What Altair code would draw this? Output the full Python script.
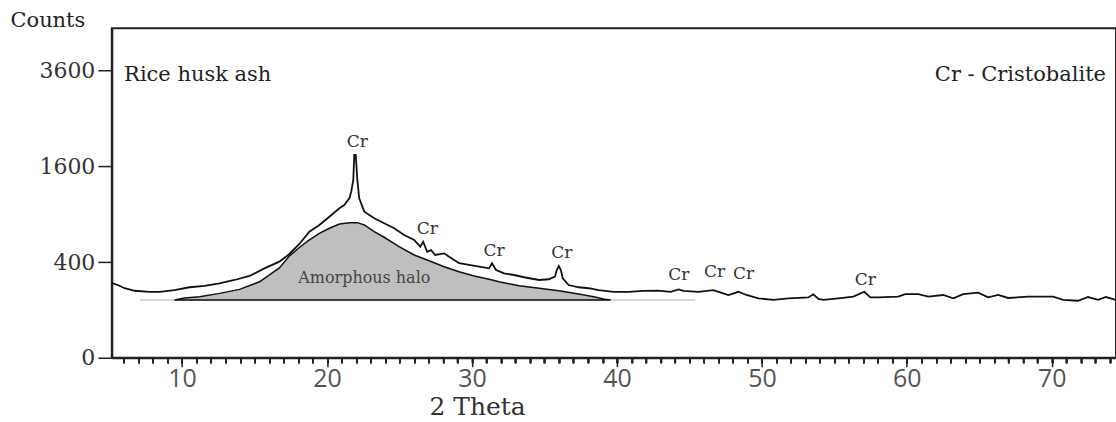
import altair as alt
import pandas as pd

# Main XRD pattern (2-theta, counts)
theta = [5.15, 5.56, 6.04, 6.73, 7.76, 8.45, 9.48, 10.52, 11.55, 12.58, 13.62, 14.65, 15.68,
         16.71, 17.40, 18.09, 18.78, 19.47, 20.16, 20.85, 21.19, 21.54, 21.67, 21.81, 21.88,
         21.98, 22.09, 22.22, 22.57, 23.26, 23.94, 24.63, 25.32, 26.01, 26.43, 26.63, 26.91,
         27.18, 27.46, 28.08, 28.42, 29.11, 29.80, 30.49, 31.18, 31.38, 31.66, 32.21, 32.90,
         33.59, 34.63, 35.30, 35.72, 35.85, 35.99, 36.13, 36.26, 36.67, 37.36, 38.05, 38.73,
         39.77, 40.81, 41.84, 42.87, 43.70, 44.25, 44.59, 45.63, 46.66, 47.01, 47.69, 48.38,
         48.93, 49.76, 50.79, 51.83, 53.20, 53.55, 53.90, 54.24, 55.28, 56.31, 57.07, 57.48,
         58.03, 59.41, 59.89, 60.79, 61.48, 62.51, 63.20, 63.89, 64.92, 65.61, 66.30, 66.99,
         68.37, 70.09, 70.78, 71.81, 72.50, 73.19, 73.74, 74.43]
counts = [244, 231, 211, 196, 190, 189, 200, 217, 225, 242, 264, 292, 349,
          403, 470, 565, 694, 770, 869, 976, 1019, 1111, 1205, 1380, 1796,
          1796, 1380, 1111, 932, 849, 790, 732, 658, 606, 539, 588, 491,
          507, 461, 476, 446, 390, 376, 362, 349, 390, 336, 311, 299,
          283, 264, 269, 287, 336, 368, 336, 276, 231, 217, 211, 200,
          190, 189, 195, 197, 190, 204, 195, 190, 200, 190, 172, 190,
          172, 154, 146, 154, 159, 176, 151, 146, 154, 163, 190, 159,
          159, 163, 177, 177, 163, 172, 154, 177, 185, 159, 172, 156,
          163, 163, 146, 142, 161, 146, 161, 146]

# Amorphous halo outline
halo_theta = [9.48, 10.17, 11.21, 12.58, 13.96, 15.34, 16.71, 17.40, 18.09, 18.78, 19.47,
              20.16, 20.85, 21.54, 22.09, 22.57, 23.26, 23.94, 24.97, 26.01, 27.04, 28.08,
              29.11, 30.15, 31.18, 31.87, 33.25, 34.63, 36.00, 37.36, 38.40, 39.08, 39.57]
halo_counts = [146, 156, 163, 181, 204, 252, 352, 452, 531, 606, 676,
               732, 781, 797, 797, 770, 694, 634, 539, 461, 411, 362,
               323, 292, 269, 252, 227, 211, 196, 177, 163, 151, 146]
halo_base = 146
baseline_start, baseline_end = 7.1, 45.4

# Peak labels
cr_theta = [22.09, 26.91, 31.52, 36.20, 44.26, 46.74, 48.74, 57.14]
cr_counts = [2034, 724, 498, 479, 299, 321, 306, 264]

# Other annotations
notes_text = ["Amorphous halo"]
notes_theta = [22.57]
notes_counts = [278]

x_domain = [5.15, 74.43]
y_domain = [0, 4740]
y_ticks = [0, 400, 1600, 3600]
x_major = [10, 20, 30, 40, 50, 60, 70]
x_minor = list(range(6, 75))

xs = alt.Scale(domain=x_domain, nice=False, zero=False)
ys = alt.Scale(type="sqrt", domain=y_domain, nice=False, zero=True)

main_df = pd.DataFrame({"theta": theta, "counts": counts})
halo_df = pd.DataFrame({"theta": halo_theta, "counts": halo_counts, "base": halo_base})
base_df = pd.DataFrame({"t1": [baseline_start], "t2": [baseline_end], "c": [halo_base]})
cr_df = pd.DataFrame({"theta": cr_theta, "counts": cr_counts, "label": "Cr"})
notes_df = pd.DataFrame({"theta": notes_theta, "counts": notes_counts, "label": notes_text})
corner_df = pd.DataFrame({"theta": [6.0], "counts": [3500], "label": ["Rice husk ash"]})
corner2_df = pd.DataFrame({"theta": [73.74], "counts": [3500], "label": ["Cr - Cristobalite"]})

x_axis = alt.Axis(
    orient="bottom", values=x_major, format="d",
    tickSize=9, tickColor="#222", tickWidth=1.5, domainColor="#222", domainWidth=2,
    labelFont="Open Sans", labelFontSize=25, labelColor="#555", labelPadding=0,
    labelOverlap=False, labelFlush=False, grid=False,
    title="2 Theta", titleFont="DejaVu Serif", titleFontSize=25, titleFontWeight="normal",
    titleColor="#333", titleX=366, titleY=57, titleBaseline="alphabetic", titleAlign="center",
)
x_minor_axis = alt.Axis(
    orient="bottom", values=x_minor, tickSize=5, tickColor="#222", tickWidth=1.5,
    domain=False, labels=False, grid=False, title=None,
)
y_axis = alt.Axis(
    values=y_ticks, format="d", tickSize=14, tickColor="#222", tickWidth=1.5,
    domainColor="#222", domainWidth=2,
    labelFont="DejaVu Serif", labelFontSize=22, labelColor="#333", labelPadding=3,
    labelOverlap=False, labelFlush=False, grid=False,
    title="Counts", titleAngle=0, titleAlign="left", titleBaseline="middle",
    titleX=-102, titleY=-8, titleFont="DejaVu Serif", titleFontSize=21,
    titleFontWeight="normal", titleColor="#222",
)

baseline = alt.Chart(base_df).mark_rule(color="#c8c8c8", strokeWidth=1.5).encode(
    x=alt.X("t1:Q", scale=xs, axis=x_axis), x2="t2:Q",
    y=alt.Y("c:Q", scale=ys, axis=y_axis),
)
halo = alt.Chart(halo_df).mark_area(color="#bfbfbf", stroke="#111", strokeWidth=1.5,
                                    opacity=1).encode(
    x=alt.X("theta:Q", scale=xs, axis=x_minor_axis), y=alt.Y("counts:Q", scale=ys),
    y2="base:Q",
)
line = alt.Chart(main_df).mark_line(color="#111", strokeWidth=1.8).encode(
    x=alt.X("theta:Q", scale=xs, axis=x_minor_axis), y=alt.Y("counts:Q", scale=ys),
)
cr = alt.Chart(cr_df).mark_text(font="DejaVu Serif", fontSize=17, color="#333",
                                baseline="middle").encode(
    x=alt.X("theta:Q", scale=xs, axis=x_minor_axis), y=alt.Y("counts:Q", scale=ys),
    text="label:N",
)
notes = alt.Chart(notes_df).mark_text(font="DejaVu Serif", fontSize=16, color="#444",
                                      baseline="middle").encode(
    x=alt.X("theta:Q", scale=xs, axis=x_minor_axis), y=alt.Y("counts:Q", scale=ys),
    text="label:N",
)
corner = alt.Chart(corner_df).mark_text(font="DejaVu Serif", fontSize=21, color="#222",
                                        align="left", baseline="middle").encode(
    x=alt.X("theta:Q", scale=xs, axis=x_minor_axis), y=alt.Y("counts:Q", scale=ys),
    text="label:N",
)
corner2 = alt.Chart(corner2_df).mark_text(font="DejaVu Serif", fontSize=21, color="#222",
                                          align="right", baseline="middle").encode(
    x=alt.X("theta:Q", scale=xs, axis=x_minor_axis), y=alt.Y("counts:Q", scale=ys),
    text="label:N",
)

chart = alt.layer(baseline, halo, line, cr, notes, corner, corner2).resolve_axis(
    x="independent"
).properties(
    width=1006, height=330,
    autosize=alt.AutoSizeParams(type="none"),
    padding={"left": 112, "top": 28, "right": 0, "bottom": 64},
    background="white",
).configure_view(stroke="#222", strokeWidth=2)

chart.save("out.html", embed_options={"renderer": "svg", "actions": False})
